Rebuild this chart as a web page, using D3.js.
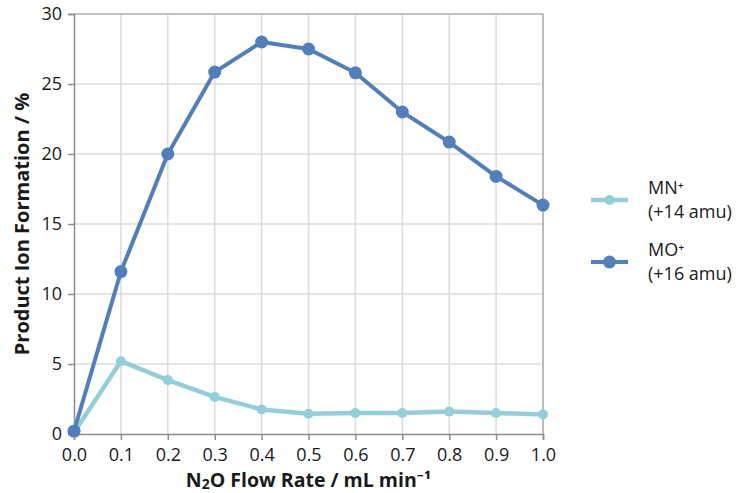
<!DOCTYPE html>
<html>
<head>
<meta charset="utf-8">
<script src="https://cdn.jsdelivr.net/npm/d3@7"></script>
<style>
	body { margin: 0; background: #fff; }
	svg text { font-family: "Open Sans", "Noto Sans", sans-serif; fill: #1a1a1a; }
</style>
</head>
<body>
<main></main>
<script>
// DATA
const flowRates = [0.0, 0.1, 0.2, 0.3, 0.4, 0.5, 0.6, 0.7, 0.8, 0.9, 1.0];
const mnValues = [0.1, 5.2, 3.85, 2.65, 1.75, 1.45, 1.5, 1.5, 1.6, 1.5, 1.4];
const moValues = [0.2, 11.6, 20.0, 25.85, 28.0, 27.5, 25.8, 23.0, 20.85, 18.4, 16.35];
const yTicks = [0, 5, 10, 15, 20, 25, 30];
const seriesNames = ["MN⁺", "MO⁺"];
const seriesNotes = ["(+14 amu)", "(+16 amu)"];

// chart dimension
const w = 751, h = 493;
const m = { left: 74, top: 14, right: 208, bottom: 59 };

const svg = d3.select('main').append('svg')
	.attr("width", w)
	.attr("height", h);

// scales
const xScale = d3.scaleLinear().domain([0, 1]).range([m.left, w - m.right]);
const yScale = d3.scaleLinear().domain([0, 30]).range([h - m.bottom, m.top]);

// grid
svg.append("g").selectAll("line")
	.data(flowRates.slice(1))
	.join("line")
		.attr("x1", d => xScale(d)).attr("x2", d => xScale(d))
		.attr("y1", yScale(0)).attr("y2", yScale(30))
		.attr("stroke", "#dcdcdc").attr("stroke-width", 1.5);
svg.append("g").selectAll("line")
	.data(yTicks.slice(1))
	.join("line")
		.attr("x1", xScale(0)).attr("x2", xScale(1))
		.attr("y1", d => yScale(d)).attr("y2", d => yScale(d))
		.attr("stroke", "#dcdcdc").attr("stroke-width", 1.5);

// frame top & right
svg.append("path")
	.attr("d", `M${xScale(0)},${yScale(30)}H${xScale(1)}V${yScale(0)}`)
	.attr("fill", "none").attr("stroke", "#a0a0a0").attr("stroke-width", 1.2);

// axes
const xAxis = d3.axisBottom(xScale).tickValues(flowRates).tickFormat(d3.format(".1f")).tickSize(6).tickPadding(8);
const gx = svg.append("g")
	.attr("transform", `translate(0, ${yScale(0)})`)
	.call(xAxis);
const yAxis = d3.axisLeft(yScale).tickValues(yTicks).tickSize(6).tickPadding(6);
const gy = svg.append("g")
	.attr("transform", `translate(${xScale(0)}, 0)`)
	.call(yAxis);
[gx, gy].forEach(g => {
	g.select(".domain").attr("stroke", "#8c8c8c").attr("stroke-width", 1.5);
	g.selectAll(".tick line").attr("stroke", "#8c8c8c").attr("stroke-width", 1.5);
	g.selectAll(".tick text").style("font-size", "18px").style("font-family", '"Open Sans", sans-serif').attr("fill", "#1a1a1a");
});

// axis titles
svg.append("text")
	.attr("x", xScale(0.5)).attr("y", 487)
	.attr("text-anchor", "middle")
	.style("font-size", "19.5px").style("font-weight", "bold")
	.html('N<tspan font-size="14px" dy="2">2</tspan><tspan dy="-2">O Flow Rate / mL min⁻¹</tspan>');
svg.append("text")
	.attr("transform", `translate(29, ${yScale(15)}) rotate(-90)`)
	.attr("text-anchor", "middle")
	.style("font-size", "20px").style("font-weight", "bold")
	.text("Product Ion Formation / %");

// series
const series = [
	{ values: mnValues, color: "#92cfdc", width: 4.5, r: 5 },
	{ values: moValues, color: "#4f80bd", width: 4, r: 6.5 }
];
const line = d3.line().x((d, i) => xScale(flowRates[i])).y(d => yScale(d));
series.forEach(s => {
	svg.append("path")
		.attr("d", line(s.values))
		.attr("fill", "none").attr("stroke", s.color)
		.attr("stroke-width", s.width).attr("stroke-linejoin", "round");
	svg.append("g").selectAll("circle")
		.data(s.values)
		.join("circle")
			.attr("cx", (d, i) => xScale(flowRates[i]))
			.attr("cy", d => yScale(d))
			.attr("r", s.r)
			.attr("fill", s.color);
});

// legend
const legendY = [200, 262];
series.forEach((s, i) => {
	const g = svg.append("g").attr("transform", `translate(591, ${legendY[i]})`);
	g.append("line").attr("x1", 0).attr("x2", 37)
		.attr("stroke", s.color).attr("stroke-width", s.width);
	g.append("circle").attr("cx", 18.5).attr("r", s.r).attr("fill", s.color);
	const t = g.append("text").attr("y", -6.5).style("font-size", "18px");
	t.append("tspan").attr("x", 57).text(seriesNames[i]);
	t.append("tspan").attr("x", 57).attr("dy", 24.8).text(seriesNotes[i]);
});
</script>
</body>
</html>
